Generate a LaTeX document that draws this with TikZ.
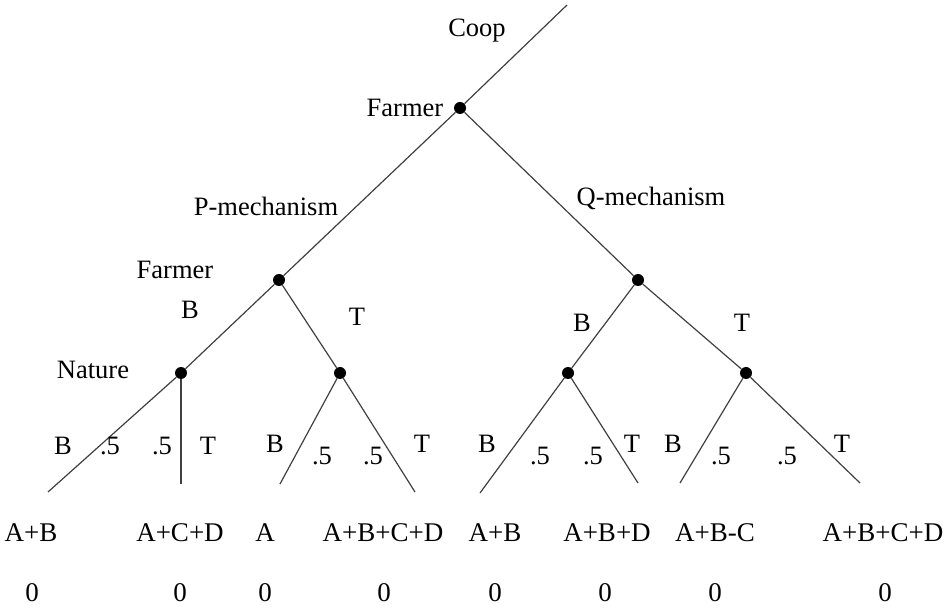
\documentclass[tikz,border=0pt]{standalone}
\usepackage{fontspec}
\setmainfont{Liberation Serif}
\begin{document}
\begin{tikzpicture}[x=1pt,y=-1pt,
  dot/.style={circle,fill=black,inner sep=0pt,minimum size=12pt},
  edge/.style={draw=black!75,line width=1.2pt},
  lbl/.style={font=\fontsize{26.5}{28}\selectfont, inner sep=0pt},
  pay/.style={font=\fontsize{27}{29}\selectfont, inner sep=0pt}]
\useasboundingbox (0,0) rectangle (946,609);
% decision nodes
\coordinate (top) at (567,5);
\node[dot] (root) at (460,108) {};
\node[dot] (fp) at (279,280) {};
\node[dot] (fq) at (638,280) {};
\node[dot] (nPB) at (181,373) {};
\node[dot] (nPT) at (340,373) {};
\node[dot] (nQB) at (568,373) {};
\node[dot] (nQT) at (746,373) {};
% leaf ends
\coordinate (l1) at (48,492);
\coordinate (l2) at (181,484);
\coordinate (l3) at (280,484);
\coordinate (l4) at (415,492);
\coordinate (l5) at (480,493);
\coordinate (l6) at (638,483);
\coordinate (l7) at (680,483);
\coordinate (l8) at (860,483);
% edges
\draw[edge] (top) -- (root);
\draw[edge] (root) -- (fp);
\draw[edge] (root) -- (fq);
\draw[edge] (fp) -- (nPB);
\draw[edge] (fp) -- (nPT);
\draw[edge] (fq) -- (nQB);
\draw[edge] (fq) -- (nQT);
\draw[edge] (nPB) -- (l1);
\draw[edge] (nPB) -- (l2);
\draw[edge] (nPT) -- (l3);
\draw[edge] (nPT) -- (l4);
\draw[edge] (nQB) -- (l5);
\draw[edge] (nQB) -- (l6);
\draw[edge] (nQT) -- (l7);
\draw[edge] (nQT) -- (l8);
% labels
\node[lbl] (tcoop) at (477,31) {Coop};
\node[lbl] (tfarm1) at (405,108) {Farmer};
\node[lbl] (tpm) at (266,206) {P-mechanism};
\node[lbl] (tqm) at (651,198) {Q-mechanism};
\node[lbl] (tfarm2) at (175,270) {Farmer};
\node[lbl] (tB1) at (190,310) {B};
\node[lbl] (tT1) at (357,317) {T};
\node[lbl] (tnat) at (93,370) {Nature};
\node[lbl] (tB2) at (582,323) {B};
\node[lbl] (tT2) at (742,323) {T};
% chance labels
\node[lbl] (c1) at (63,446) {B};
\node[lbl] (c2) at (110,446) {.5};
\node[lbl] (c3) at (162,446) {.5};
\node[lbl] (c4) at (208,446) {T};
\node[lbl] (c5) at (275,444) {B};
\node[lbl] (c6) at (322,456) {.5};
\node[lbl] (c7) at (373,456) {.5};
\node[lbl] (c8) at (422,444) {T};
\node[lbl] (c9) at (487,444) {B};
\node[lbl] (c10) at (540,456) {.5};
\node[lbl] (c11) at (593,456) {.5};
\node[lbl] (c12) at (632,444) {T};
\node[lbl] (c13) at (673,444) {B};
\node[lbl] (c14) at (721,456) {.5};
\node[lbl] (c15) at (787,456) {.5};
\node[lbl] (c16) at (842,444) {T};
% payoffs
\node[pay] (p1) at (31,533) {A+B};
\node[pay] (p2) at (180,533) {A+C+D};
\node[pay] (p3) at (265,533) {A};
\node[pay] (p4) at (383,533) {A+B+C+D};
\node[pay] (p5) at (495,533) {A+B};
\node[pay] (p6) at (607,533) {A+B+D};
\node[pay] (p7) at (715,533) {A+B-C};
\node[pay] (p8) at (883,533) {A+B+C+D};
\node[pay] (z1) at (32,593) {0};
\node[pay] (z2) at (180,593) {0};
\node[pay] (z3) at (265,593) {0};
\node[pay] (z4) at (384,593) {0};
\node[pay] (z5) at (495,593) {0};
\node[pay] (z6) at (605,593) {0};
\node[pay] (z7) at (715,593) {0};
\node[pay] (z8) at (885,593) {0};
\end{tikzpicture}
\end{document}
